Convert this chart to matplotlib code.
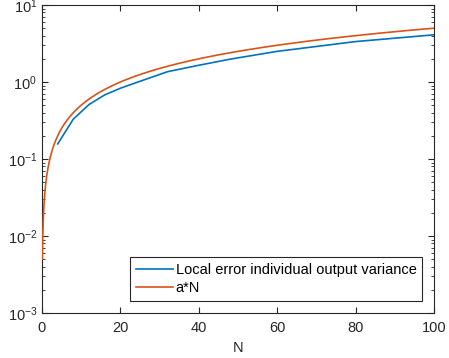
import numpy as np
import matplotlib
matplotlib.use("Agg")
import matplotlib.pyplot as plt

plt.rcParams['font.family'] = ['Liberation Sans', 'DejaVu Sans']

# local error curve
n_vals = [4, 8, 12, 16, 20, 24, 32, 40, 48, 60, 80, 100]
err_vals = [0.157, 0.33, 0.51, 0.68, 0.83, 0.98, 1.36, 1.65, 1.98, 2.5, 3.35, 4.1]

# linear fit a*N
a = 0.05
n_fit = np.linspace(0.1, 100, 1000)
fit_vals = a * n_fit

fig = plt.figure(figsize=(4.49, 3.58), dpi=100)
ax = fig.add_axes([42/449, 45/358, 392/449, 308/358])

ax.plot(n_vals, err_vals, color='#0072BD', lw=1.2, zorder=3,
        label='Local error individual output variance')
ax.plot(n_fit, fit_vals, color='#D95319', lw=1.2, zorder=3, label='a*N')

ax.set_yscale('log')
ax.set_xlim(0, 100)
ax.set_ylim(1e-3, 1e1)
ax.set_xticks([0, 20, 40, 60, 80, 100])
ax.set_yticks([1e-3, 1e-2, 1e-1, 1e0, 1e1])
ax.set_xlabel('N', fontsize=10.5, color='#262626', labelpad=4)

axc = '#262626'
for s in ax.spines.values():
    s.set_color(axc)
    s.set_linewidth(0.8)
ax.tick_params(which='both', direction='in', top=True, right=True, colors=axc, labelsize=10.5)
ax.tick_params(which='major', length=4)
ax.tick_params(which='minor', length=2)
ax.tick_params(axis='x', pad=6)

leg = ax.legend(loc='lower right', fontsize=10.5, fancybox=False, framealpha=1,
                edgecolor=axc, handlelength=2.6, handletextpad=0.15,
                borderpad=0.4, labelspacing=0.3, borderaxespad=0.8)
leg.get_frame().set_linewidth(0.8)

fig.savefig('out.png', dpi=100)
